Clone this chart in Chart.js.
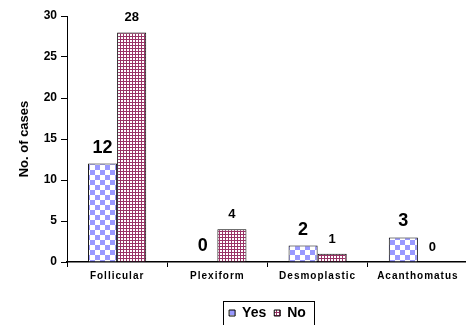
<!DOCTYPE html>
<html>
<head>
<meta charset="utf-8">
<script src="https://cdn.jsdelivr.net/npm/chart.js@4.4.1/dist/chart.umd.min.js"></script>
<style>
  html, body { margin: 0; padding: 0; background: #fff; overflow: hidden; }
  #wrap { width: 466px; height: 325px; overflow: hidden; }
  canvas { display: block; }
</style>
</head>
<body>
<div id="wrap"><canvas id="c" width="468" height="325"></canvas></div>
<script>
// Cases by histological type
const categories = ['Follicular', 'Plexiform', 'Desmoplastic', 'Acanthomatus'];
const yesCases = [12, 0, 2, 3];
const noCases = [28, 4, 1, 0];
const seriesNames = ['Yes', 'No'];
const yTicks = [0, 5, 10, 15, 20, 25, 30];

const FONT = '"Liberation Sans", Arial, sans-serif';

// Checkerboard fill: lavender squares on white
function checkerPattern() {
  const t = document.createElement('canvas');
  t.width = 10; t.height = 10;
  const g = t.getContext('2d');
  g.fillStyle = '#ffffff'; g.fillRect(0, 0, 10, 10);
  g.fillStyle = '#9999ff';
  g.fillRect(0, 0, 5, 5);
  g.fillRect(5, 5, 5, 5);
  return g.createPattern(t, 'repeat');
}

// Fine grid fill: white dots on maroon
function dotPattern() {
  const t = document.createElement('canvas');
  t.width = 3; t.height = 3;
  const g = t.getContext('2d');
  g.fillStyle = '#993366'; g.fillRect(0, 0, 3, 3);
  g.fillStyle = '#ffffff';
  g.fillRect(1, 1, 2, 2);
  return g.createPattern(t, 'repeat');
}

// Value labels above each bar; first series uses a larger font
const valueLabels = {
  id: 'valueLabels',
  afterDatasetsDraw(chart) {
    const ctx = chart.ctx;
    ctx.save();
    ctx.fillStyle = '#000';
    ctx.textAlign = 'center';
    ctx.textBaseline = 'alphabetic';
    chart.data.datasets.forEach((ds, di) => {
      const meta = chart.getDatasetMeta(di);
      ctx.font = (di === 0 ? 'bold 18px ' : 'bold 13px ') + FONT;
      meta.data.forEach((bar, i) => {
        ctx.fillText(String(ds.data[i]), bar.x, bar.y - 11);
      });
    });
    ctx.restore();
  }
};

// Spaced-out category labels and a frame around the legend
const styling = {
  id: 'styling',
  afterLayout(chart) {
    const sx = chart.scales.x;
    if (!sx._spaced) {
      const base = Object.getPrototypeOf(sx).drawLabels;
      sx.drawLabels = function (area) {
        const ctx = this.ctx;
        ctx.save();
        ctx.letterSpacing = '1px';
        base.call(this, area);
        ctx.restore();
      };
      sx._spaced = true;
    }
  },
  afterDraw(chart) {
    const lg = chart.legend;
    if (!lg || !lg.legendHitBoxes || !lg.legendHitBoxes.length) return;
    const boxes = lg.legendHitBoxes;
    const left = Math.min(...boxes.map(b => b.left)) - 6;
    const right = Math.max(...boxes.map(b => b.left + b.width)) + 8;
    const top = boxes[0].top - 5;
    const ctx = chart.ctx;
    ctx.save();
    ctx.strokeStyle = '#000';
    ctx.lineWidth = 1;
    ctx.strokeRect(Math.round(left) + 0.5, Math.round(top) + 0.5, Math.round(right - left), 40);
    ctx.restore();
  }
};

new Chart(document.getElementById('c'), {
  type: 'bar',
  data: {
    labels: categories,
    datasets: [
      {
        label: seriesNames[0],
        data: yesCases,
        backgroundColor: checkerPattern(),
        borderColor: '#000',
        borderWidth: 1,
        categoryPercentage: 0.58,
        barPercentage: 1.0
      },
      {
        label: seriesNames[1],
        data: noCases,
        backgroundColor: dotPattern(),
        borderColor: '#000',
        borderWidth: 1,
        categoryPercentage: 0.58,
        barPercentage: 1.0
      }
    ]
  },
  options: {
    responsive: false,
    animation: false,
    devicePixelRatio: 1,
    layout: { padding: { top: 16, right: 0, bottom: -5, left: 0 } },
    plugins: {
      tooltip: { enabled: false },
      legend: {
        position: 'bottom',
        fullSize: false,
        labels: {
          color: '#000',
          font: { family: FONT, size: 14, weight: 'bold' },
          boxWidth: 6,
          boxHeight: 6,
          padding: 8
        }
      }
    },
    scales: {
      x: {
        grid: {
          display: true,
          drawOnChartArea: false,
          drawTicks: true,
          tickLength: 5,
          color: '#000',
          offset: true
        },
        border: { display: true, color: '#000', width: 1.5 },
        ticks: {
          color: '#000',
          padding: 3,
          maxRotation: 0,
          font: { family: FONT, size: 10, weight: 'bold' }
        },
        afterFit(scale) { scale.height = 36; }
      },
      y: {
        min: 0,
        max: 30,
        afterBuildTicks(scale) { scale.ticks = yTicks.map(v => ({ value: v })); },
        grid: {
          display: true,
          drawOnChartArea: false,
          drawTicks: true,
          tickLength: 6,
          color: '#000'
        },
        border: { display: true, color: '#000', width: 1 },
        ticks: {
          color: '#000',
          padding: 4,
          font: { family: FONT, size: 12, weight: 'bold' }
        },
        title: {
          display: true,
          text: 'No. of cases',
          color: '#000',
          padding: { top: 17, bottom: 0 },
          font: { family: FONT, size: 13, weight: 'bold' }
        },
        afterFit(scale) { scale.width = 67; }
      }
    }
  },
  plugins: [valueLabels, styling]
});
</script>
</body>
</html>
